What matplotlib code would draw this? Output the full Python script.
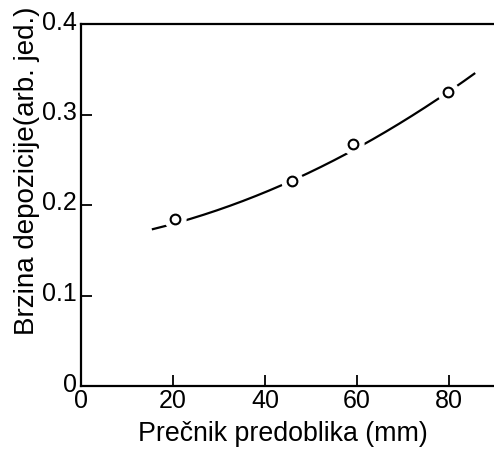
import numpy as np
import matplotlib
matplotlib.use("Agg")
import matplotlib.pyplot as plt
import matplotlib.transforms as mtransforms

# Measured points
diam = [20.4, 45.9, 59.1, 79.8]
rate = [0.184, 0.227, 0.267, 0.325]

# Points
curve_x = [15.4, 20.4, 34.6, 45.9, 59.0, 70.9, 79.8, 85.7]
curve_y = [0.173, 0.183, 0.197, 0.226, 0.266, 0.295, 0.324, 0.345]

xticks = [0, 20, 40, 60, 80]
yticks = [0, 0.1, 0.2, 0.3, 0.4]
yticklabels = ["0", "0.1", "0.2", "0.3", "0.4"]
xlabel = "Prečnik predoblika (mm)"
ylabel = "Brzina depozicije(arb. jed.)"

plt.rcParams['font.family'] = ['Liberation Sans', 'DejaVu Sans']

fig = plt.figure(figsize=(4.94, 4.5), dpi=100)
ax = fig.add_axes([81/494, 64/450, 1 - 81/494 + 0.002, (386 - 24)/450])

# smooth curve
coef = np.polyfit(curve_x, curve_y, 2)
xs = np.linspace(min(curve_x), max(curve_x), 200)
ax.plot(xs, np.polyval(coef, xs), color='black', lw=1.6, zorder=2, solid_capstyle='butt')
# gaps around markers
ax.plot(diam, rate, 'o', ms=15, mfc='white', mec='white', zorder=3)
ax.plot(diam, rate, 'o', ms=7, mfc='white', mec='black', mew=1.5, zorder=4)

ax.set_xlim(0, 90)
ax.set_ylim(0, 0.4)
ax.set_xticks(xticks)
ax.set_yticks(yticks)
ax.set_yticklabels(yticklabels)
ax.tick_params(direction='in', length=8, width=1.3, labelsize=18)
ax.tick_params(axis='x', pad=2)
ax.tick_params(axis='y', pad=3)
for s in ['left', 'bottom', 'top']:
    ax.spines[s].set_linewidth(1.6)
ax.spines['right'].set_visible(False)

offset = mtransforms.ScaledTranslation(0, 4/100, fig.dpi_scale_trans)
for lab in ax.get_yticklabels():
    lab.set_transform(lab.get_transform() + offset)

fig.text(283/494, 1 - 441/450, xlabel, fontsize=19.3,
         ha='center', va='baseline')
fig.text(27/494, 1 - 171/450, ylabel, fontsize=20, rotation=90,
         ha='center', va='center')

fig.savefig("out.png", dpi=100)
